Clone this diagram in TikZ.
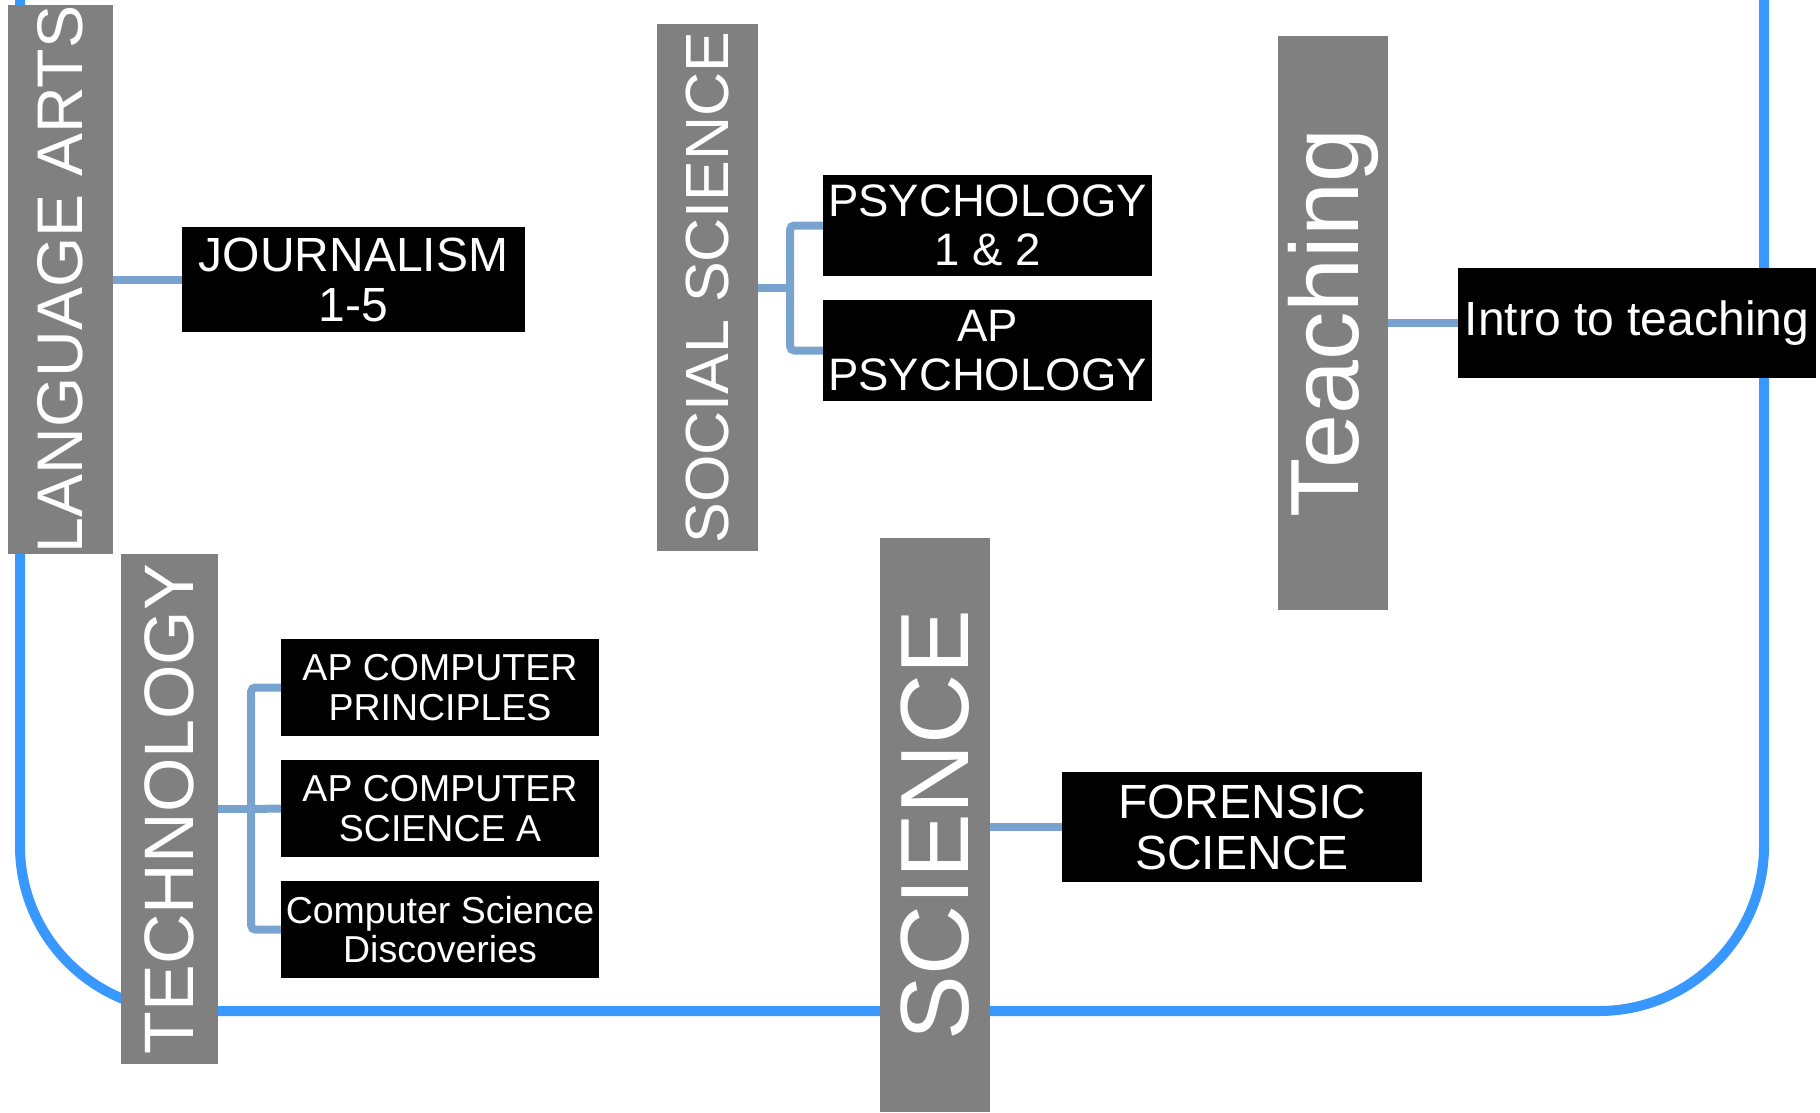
\documentclass[tikz,border=0pt]{standalone}
\usepackage{fontspec}
\setmainfont{Liberation Sans}
\definecolor{framecol}{RGB}{56,152,255}
\definecolor{linkcol}{RGB}{120,163,206}
\definecolor{catgray}{RGB}{128,128,128}
\tikzset{
	catbox/.style={fill=catgray,text=white,rotate=90,inner sep=0pt,align=center},
	coursebox/.style={fill=black,text=white,inner sep=0pt,align=center},
	link/.style={draw=linkcol,line width=8pt},
	frame/.style={draw=framecol,line width=10pt,rounded corners=165pt}
}
\begin{document}
\begin{tikzpicture}[x=1pt,y=-1pt]
		\useasboundingbox (0,0) rectangle (1820,1112);
		\draw [frame] (20,-40) |- (1764,1011) -- (1764,-40);
		\node [catbox,minimum width=549pt,minimum height=105pt,font=\fontsize{64.5}{68}\selectfont] (lang) at (60.5,279.5) {LANGUAGE ARTS};
		\node [catbox,minimum width=527pt,minimum height=101pt,font=\fontsize{61}{65}\selectfont] (soc) at (707.5,287.5) {SOCIAL SCIENCE};
		\node [catbox,minimum width=574pt,minimum height=110pt,font=\fontsize{97}{102}\selectfont] (teach) at (1333,323) {Teaching};
		\node [catbox,minimum width=510pt,minimum height=97pt,font=\fontsize{70}{74}\selectfont] (tech) at (169.5,809) {TECHNOLOGY};
		\node [catbox,minimum width=574pt,minimum height=110pt,font=\fontsize{97}{102}\selectfont] (sci) at (935,825) {SCIENCE};
		\node [coursebox,minimum width=343pt,minimum height=105pt,font=\fontsize{48}{50}\selectfont] (journ) at (353.5,279.5) {JOURNALISM\\1-5};
		\node [coursebox,minimum width=329pt,minimum height=101pt,font=\fontsize{45.5}{48.5}\selectfont] (psyone) at (987.5,225.5) {PSYCHOLOGY\\1 \& 2};
		\node [coursebox,minimum width=329pt,minimum height=101pt,font=\fontsize{45.5}{48.5}\selectfont] (appsy) at (987.5,350.5) {AP\\PSYCHOLOGY};
		\node [coursebox,minimum width=358pt,minimum height=110pt,font=\fontsize{48}{50}\selectfont] (intro) at (1637,323) {Intro to teaching};
		\node [coursebox,minimum width=318pt,minimum height=97pt,font=\fontsize{37.5}{39.5}\selectfont] (apcsp) at (440,687.5) {AP COMPUTER\\PRINCIPLES};
		\node [coursebox,minimum width=318pt,minimum height=97pt,font=\fontsize{37.5}{39.5}\selectfont] (apcsa) at (440,808.5) {AP COMPUTER\\SCIENCE A};
		\node [coursebox,minimum width=318pt,minimum height=97pt,font=\fontsize{37.5}{39.5}\selectfont] (csd) at (440,929.5) {Computer Science\\Discoveries};
		\node [coursebox,minimum width=360pt,minimum height=110pt,font=\fontsize{48}{51}\selectfont] (forensic) at (1242,827) {FORENSIC\\SCIENCE};
		\draw [link] (journ.west) -- (journ.west -| lang.south);
		\draw [link] (soc.south) -- ++(32,0) coordinate (socfork);
		\draw [link,rounded corners=4pt] (psyone.west) -| (socfork) |- (appsy.west);
		\draw [link] (intro.west) -- (intro.west -| teach.south);
		\draw [link] (tech.south) -- ++(33,0) coordinate (techfork);
		\draw [link,rounded corners=4pt] (apcsp.west) -| (techfork) |- (csd.west);
		\draw [link] (apcsa.west) -- (techfork);
		\draw [link] (forensic.west) -- (forensic.west -| sci.south);
	\end{tikzpicture}
\end{document}
